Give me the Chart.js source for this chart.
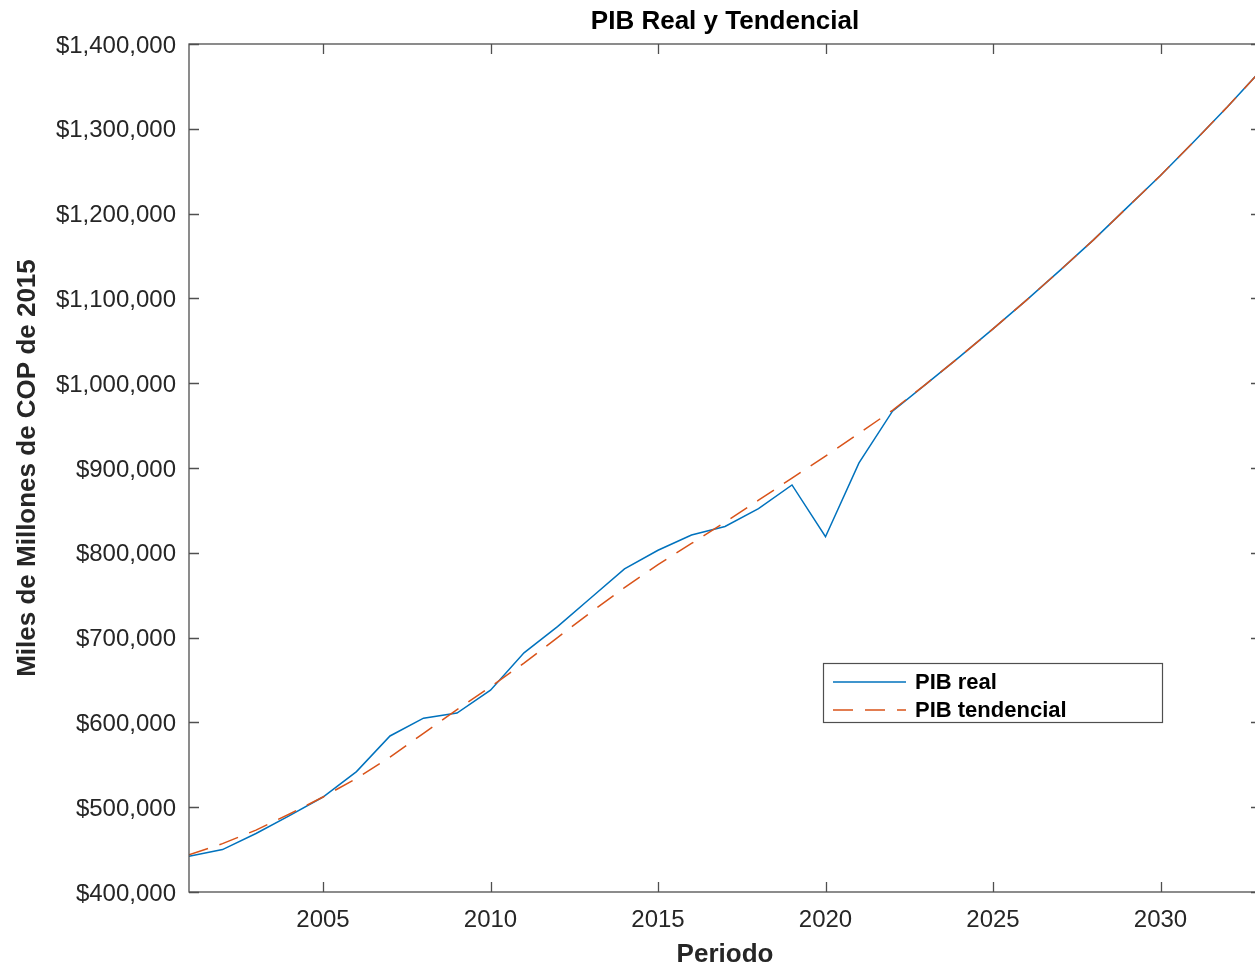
<!DOCTYPE html>
<html>
<head>
<meta charset="utf-8">
<script src="https://cdn.jsdelivr.net/npm/chart.js@4"></script>
<style>
  html, body { margin: 0; padding: 0; background: #fff; overflow: hidden; }
  #wrap { width: 1261px; height: 970px; }
</style>
</head>
<body>
<div id="wrap"><canvas id="pibChart" width="1261" height="970"></canvas></div>
<script>
// datos
const years = [2001, 2002, 2003, 2004, 2005, 2006, 2007, 2008, 2009, 2010, 2011,
  2012, 2013, 2014, 2015, 2016, 2017, 2018, 2019, 2020, 2021, 2022,
  2023, 2024, 2025, 2026, 2027, 2028, 2029, 2030, 2031, 2032, 2033];

const pibReal = [442000, 450000, 469000, 490000, 512000, 542000, 584000, 605000, 611000, 638000, 682000,
  713000, 747000, 781000, 803000, 821000, 831000, 852000, 880000, 819000, 906000, 967000,
  999000, 1031000, 1064000, 1098000, 1133000, 1169000, 1207000, 1245000, 1285000, 1326000, 1369000];

const pibTendencial = [444000, 457000, 473000, 492000, 512000, 534000, 559000, 587000, 615000, 642000, 670000,
  700000, 730000, 759000, 786000, 811000, 836000, 862000, 888000, 914000, 941000, 968000,
  999000, 1031000, 1064000, 1098000, 1133000, 1169000, 1207000, 1245000, 1285000, 1326000, 1369000];

const xTicks = [2005, 2010, 2015, 2020, 2025, 2030];
const yMin = 400000, yMax = 1400000, yStep = 100000;

const fontName = "'Liberation Sans', Arial, Helvetica, sans-serif";
const textColor = '#262626';
const axisColor = '#4f4f4f';

// caja tipo MATLAB con ticks hacia adentro
const boxPlugin = {
    id: 'boxPlugin',
    afterDatasetsDraw(chart) {
        const { ctx, chartArea: a, scales } = chart;
        ctx.save();
        ctx.strokeStyle = axisColor;
        ctx.lineWidth = 1.3;
        ctx.strokeRect(a.left, a.top, a.right - a.left, a.bottom - a.top);
        ctx.beginPath();
        scales.x.ticks.forEach(t => {
            const px = Math.round(scales.x.getPixelForValue(t.value)) + 0.5;
            ctx.moveTo(px, a.bottom); ctx.lineTo(px, a.bottom - 10);
            ctx.moveTo(px, a.top); ctx.lineTo(px, a.top + 10);
        });
        scales.y.ticks.forEach(t => {
            const py = Math.round(scales.y.getPixelForValue(t.value)) + 0.5;
            ctx.moveTo(a.left, py); ctx.lineTo(a.left + 10, py);
            ctx.moveTo(a.right, py); ctx.lineTo(a.right - 10, py);
        });
        ctx.stroke();

        // leyenda
        const lx = 823, ly = 663, lw = 339, lh = 59;
        ctx.fillStyle = '#fff';
        ctx.fillRect(lx, ly, lw, lh);
        ctx.strokeStyle = axisColor;
        ctx.lineWidth = 1.2;
        ctx.strokeRect(lx + 0.5, ly + 0.5, lw, lh);
        ctx.font = 'bold 22px ' + fontName;
        ctx.textBaseline = 'middle';
        ctx.fillStyle = '#000';
        chart.data.datasets.forEach((ds, i) => {
            const yy = ly + 19 + i * 28;
            ctx.beginPath();
            ctx.strokeStyle = ds.borderColor;
            ctx.lineWidth = 1.5;
            ctx.setLineDash(ds.borderDash || []);
            ctx.moveTo(lx + 10, yy);
            ctx.lineTo(lx + 83, yy);
            ctx.stroke();
            ctx.setLineDash([]);
            ctx.fillText(ds.label, lx + 92, yy + 1);
        });
        ctx.restore();
    }
};

const ctx = document.getElementById('pibChart').getContext('2d');
new Chart(ctx, {
    type: 'line',
    data: {
        labels: years,
        datasets: [{
            label: 'PIB real',
            data: years.map((y, i) => ({ x: y, y: pibReal[i] })),
            borderColor: '#0072BD',
            borderWidth: 1.5,
            pointRadius: 0,
            tension: 0,
            fill: false,
            order: 1
        }, {
            label: 'PIB tendencial',
            data: years.map((y, i) => ({ x: y, y: pibTendencial[i] })),
            borderColor: '#D95319',
            borderWidth: 1.5,
            borderDash: [20, 12],
            pointRadius: 0,
            tension: 0,
            fill: false,
            order: 0
        }]
    },
    options: {
        responsive: false,
        animation: false,
        devicePixelRatio: 1,
        layout: { padding: 0 },
        plugins: {
            legend: { display: false },
            tooltip: { enabled: false },
            title: {
                display: true,
                fullSize: false,
                text: 'PIB Real y Tendencial',
                color: '#000',
                font: { family: fontName, size: 26, weight: 'bold', lineHeight: 1.2 },
                padding: { top: 6, bottom: 6.8 }
            }
        },
        scales: {
            x: {
                type: 'linear',
                min: 2001,
                max: 2033,
                afterBuildTicks: scale => { scale.ticks = xTicks.map(v => ({ value: v })); },
                afterFit: scale => { scale.height = 78; },
                grid: { display: false, drawTicks: false },
                border: { display: false },
                ticks: {
                    color: textColor,
                    padding: 14,
                    maxRotation: 0,
                    autoSkip: false,
                    font: { family: fontName, size: 24 },
                    callback: v => String(v)
                },
                title: {
                    display: true,
                    text: 'Periodo',
                    color: textColor,
                    font: { family: fontName, size: 26, weight: 'bold', lineHeight: 1.2 },
                    padding: 0
                }
            },
            y: {
                min: yMin,
                max: yMax,
                afterFit: scale => { scale.width = 189; },
                grid: { display: false, drawTicks: false },
                border: { display: false },
                ticks: {
                    stepSize: yStep,
                    color: textColor,
                    padding: 13,
                    labelOffset: 2,
                    font: { family: fontName, size: 24 },
                    callback: v => '$' + Number(v).toLocaleString('en-US')
                },
                title: {
                    display: true,
                    text: 'Miles de Millones de COP de 2015',
                    color: textColor,
                    font: { family: fontName, size: 26, weight: 'bold', lineHeight: 1.2 },
                    padding: { top: 12, bottom: 0 }
                }
            }
        }
    },
    plugins: [boxPlugin]
});
</script>
</body>
</html>
